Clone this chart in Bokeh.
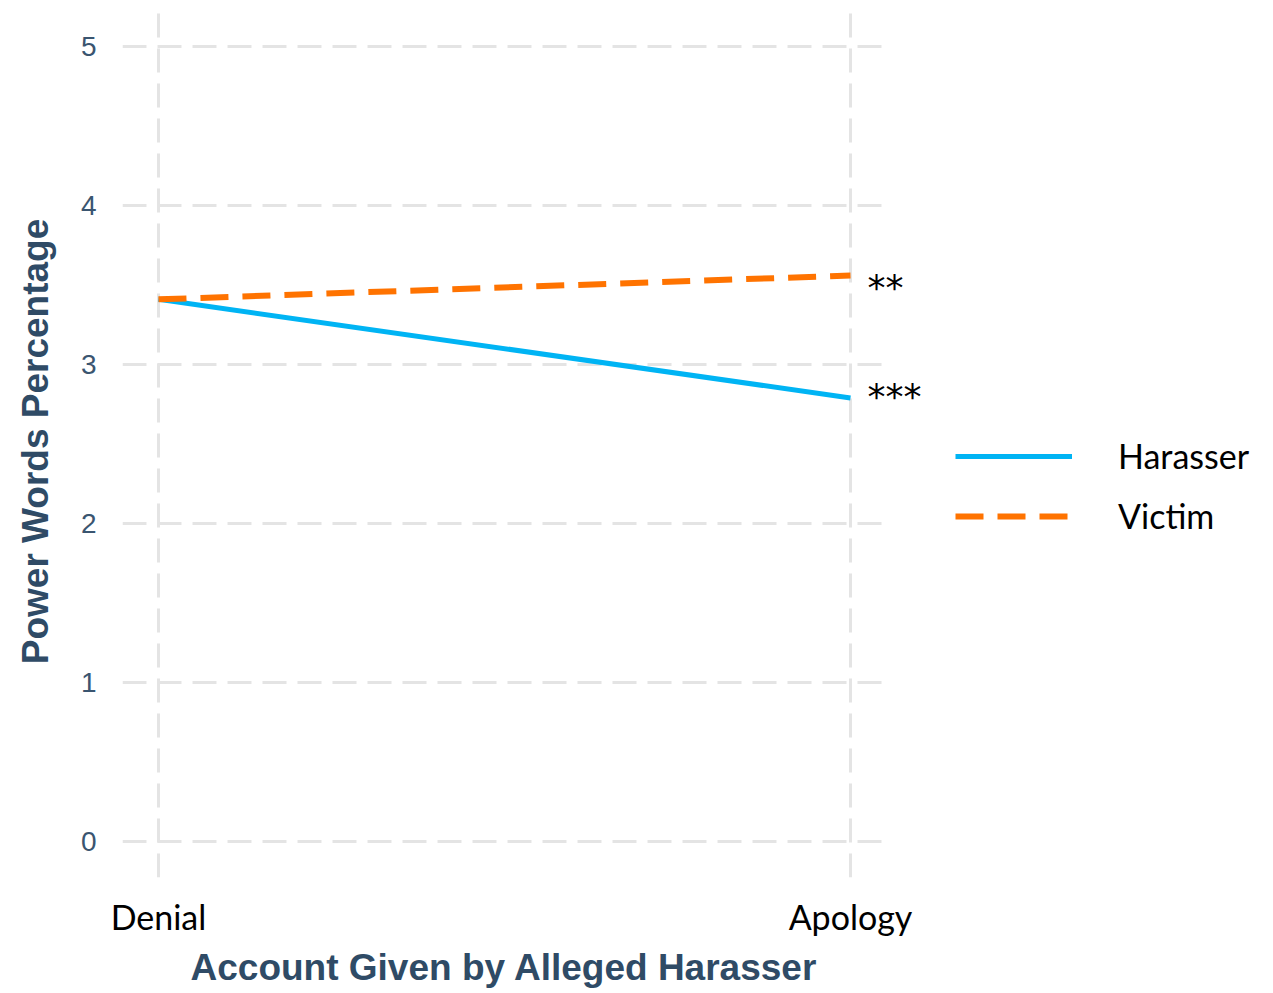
from bokeh.plotting import figure
from bokeh.models import Range1d, FixedTicker, Legend, LegendItem, Label, Title
from bokeh.embed import file_html
from bokeh.resources import INLINE

# ---- data ----
accounts = ["Denial", "Apology"]
harasser = [3.41, 2.79]
victim = [3.41, 3.56]
significance_harasser = "***"
significance_victim = "**"
y_ticks = [0, 1, 2, 3, 4, 5]
x_title = "Account Given by Alleged Harasser"
y_title = "Power Words Percentage"

xs = list(range(len(accounts)))

AXIS_COLOR = "#2f4b66"
TICK_COLOR = "#3a5570"
GRID_COLOR = "#e4e4e4"
PANEL_X = (-0.052, 1.0506)   # visible extent of the plotting panel

p = figure(width=1265, height=993, output_backend="svg", toolbar_location=None,
           x_range=Range1d(-0.052, 1.5997), y_range=Range1d(-0.226, 5.258),
           min_border_left=122, min_border_right=0, min_border_top=5,
           min_border_bottom=60, background_fill_color="white",
           border_fill_color="white")
p.outline_line_color = None

# axes
p.xaxis.ticker = FixedTicker(ticks=xs)
p.xaxis.major_label_overrides = {i: a for i, a in zip(xs, accounts)}
p.yaxis.ticker = FixedTicker(ticks=y_ticks)
for ax in (p.xaxis, p.yaxis):
    ax.axis_line_color = None
    ax.major_tick_line_color = None
    ax.minor_tick_line_color = None
    ax.major_tick_out = 0
    ax.major_tick_in = 0

p.yaxis.axis_label = y_title
p.yaxis.axis_label_text_font = "Liberation Sans"
p.yaxis.axis_label_text_font_style = "bold"
p.yaxis.axis_label_text_font_size = "37px"
p.yaxis.axis_label_text_color = AXIS_COLOR

p.xaxis.major_label_text_font = "Lato"
p.xaxis.major_label_text_font_size = "34px"
p.xaxis.major_label_text_color = "black"
p.xaxis.major_label_standoff = 18

p.yaxis.major_label_text_font = "Liberation Sans"
p.yaxis.major_label_text_font_size = "28px"
p.yaxis.major_label_text_color = TICK_COLOR
p.yaxis.major_label_standoff = 26
p.yaxis.axis_label_standoff = 22

# x-axis title, aligned with the visible panel
p.add_layout(Title(text=x_title, align="left", offset=68, standoff=11,
                   text_font="Liberation Sans", text_font_style="bold",
                   text_font_size="37px", text_color=AXIS_COLOR), "below")

# grid
for g in (p.xgrid, p.ygrid):
    g.grid_line_color = GRID_COLOR
    g.grid_line_width = 3
    g.grid_line_dash = "24 11"
p.xgrid.ticker = FixedTicker(ticks=xs)
p.ygrid.ticker = FixedTicker(ticks=y_ticks)
p.ygrid.cross_bounds = PANEL_X

# lines
r_h = p.line(xs, harasser, line_color="#00b4f4", line_width=5)
r_v = p.line(xs, victim, line_color="#ff7300", line_width=6, line_dash="28 14")

# significance markers
p.add_layout(Label(x=xs[-1], y=victim[-1], text=significance_victim, x_offset=17,
                   y_offset=-12, text_font="DejaVu Sans", text_font_size="36px",
                   text_color="black", text_baseline="middle"))
p.add_layout(Label(x=xs[-1], y=harasser[-1], text=significance_harasser, x_offset=17,
                   y_offset=1, text_font="DejaVu Sans", text_font_size="36px",
                   text_color="black", text_baseline="middle"))

legend = Legend(items=[LegendItem(label="Harasser", renderers=[r_h]),
                       LegendItem(label="Victim", renderers=[r_v])],
                location=(833, 341), orientation="vertical")
legend.glyph_width = 117
legend.glyph_height = 30
legend.label_height = 30
legend.spacing = 19
legend.label_standoff = 46
legend.padding = 0
legend.margin = 0
legend.border_line_color = None
legend.background_fill_alpha = 0
legend.label_text_font = "Lato"
legend.label_text_font_size = "34px"
legend.label_text_color = "black"
p.add_layout(legend)

open("out.html", "w").write(file_html(p, INLINE))
